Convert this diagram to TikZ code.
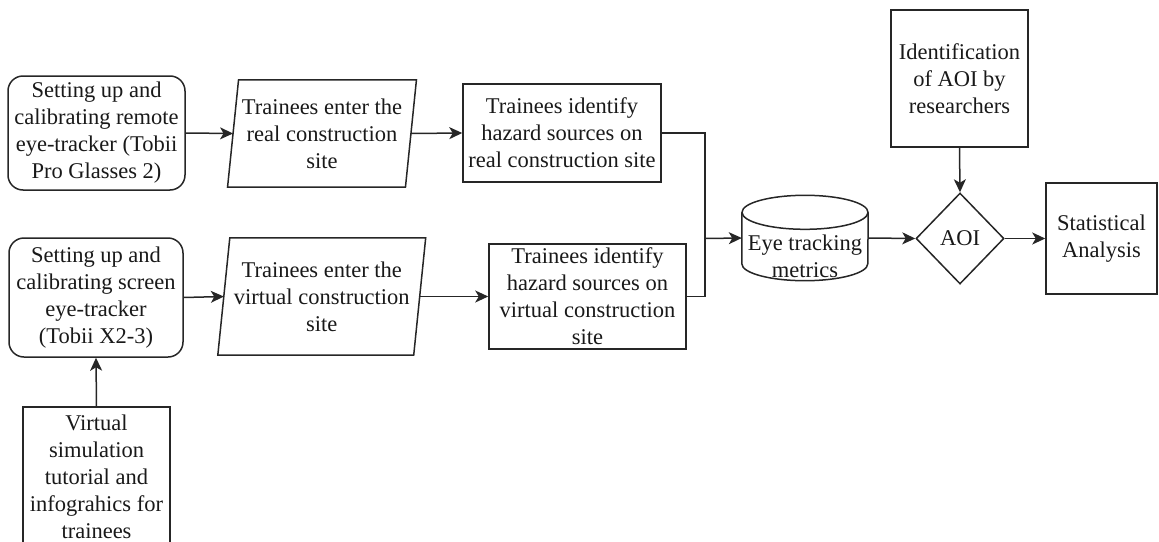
\documentclass[tikz,border=0pt]{standalone}
\usepackage{fontspec}
\setmainfont{Liberation Serif}
\usetikzlibrary{shapes.geometric,arrows.meta}
\tikzset{
  txt/.style={align=center, inner sep=0pt, font=\fontsize{22.5}{27}\selectfont, text=black!90},
  box/.style={txt, draw=black!85, line width=1.5pt, rectangle},
  rbox/.style={box, rounded corners=15pt},
  ghost/.style={txt, rectangle},
  outline/.style={draw=black!85, line width=1.5pt},
  conn/.style={draw=black!85, line width=1.5pt},
  arr/.style={conn, -{Stealth[length=13pt,width=12pt,inset=3.5pt]}},
}
\begin{document}
\begin{tikzpicture}[x=1pt,y=1pt]
\useasboundingbox (0,0) rectangle (1159,-541);
\clip (0,0) rectangle (1159,-541);
% top row
\node[rbox, minimum width=177pt, minimum height=114pt] (A) at (96.5,-133)
  {Setting up and\\calibrating remote\\eye-tracker (Tobii\\Pro Glasses 2)};
\node[ghost, minimum width=177.5pt, minimum height=107pt] (B) at (322,-133.5)
  {Trainees enter the\\real construction\\site};
\draw[outline] ([xshift=5.5pt]B.north west) -- ([xshift=5.5pt]B.north east)
  -- ([xshift=-5.5pt]B.south east) -- ([xshift=-5.5pt]B.south west) -- cycle;
\node[box, minimum width=198pt, minimum height=98pt] (C) at (562,-133)
  {Trainees identify\\hazard sources on\\real construction site};
% bottom row
\node[rbox, minimum width=174pt, minimum height=119pt] (E) at (96,-297.5)
  {Setting up and\\calibrating screen\\eye-tracker\\(Tobii X2-3)};
\node[ghost, minimum width=195.5pt, minimum height=117pt] (F) at (321.75,-296.5)
  {Trainees enter the\\virtual construction\\site};
\draw[outline] ([xshift=6pt]F.north west) -- ([xshift=6pt]F.north east)
  -- ([xshift=-6pt]F.south east) -- ([xshift=-6pt]F.south west) -- cycle;
\node[box, minimum width=197pt, minimum height=105pt] (D) at (587.5,-296.5)
  {Trainees identify\\hazard sources on\\virtual construction\\site};
\node[box, minimum width=147pt, minimum height=139pt] (G) at (96.5,-476.5)
  {Virtual\\simulation\\tutorial and\\infograhics for\\trainees};
% cylinder
\node[ghost, minimum width=126pt, minimum height=85pt] (db) at (805,-238) {};
\draw[outline] ([yshift=-17pt]db.north) ellipse [x radius=63pt, y radius=17pt];
\draw[outline] ([yshift=-17pt]db.north west) -- ([yshift=17pt]db.south west)
  arc[start angle=180, end angle=360, x radius=63pt, y radius=17pt]
  -- ([yshift=-17pt]db.north east);
\node[txt] (dbtext) at (805,-256) {Eye tracking\\metrics};
% right part
\node[box, minimum width=137pt, minimum height=137pt] (I) at (959.5,-78.5)
  {Identification\\of AOI by\\researchers};
\node[txt, draw=black!85, line width=1.5pt, diamond, minimum width=88pt, minimum height=91pt] (aoi) at (960,-238.5) {AOI};
\node[box, minimum width=111pt, minimum height=111pt] (S) at (1101.5,-238.5)
  {Statistical\\Analysis};
% connectors
\coordinate (jn) at (705,-238.5);
\draw[arr] (A.east) -- (B.west);
\draw[arr] (B.east) -- (C.west);
\draw[arr] (E.east) -- (F.west);
\draw[arr] (F.east) -- (D.west);
\draw[arr] (G.north) -- (E.south);
\draw[conn] (C.east) -| (jn);
\draw[conn] (D.east) -| (jn);
\draw[arr] (jn) -- (db.west);
\draw[arr] (db.east) -- (aoi.west);
\draw[arr] (I.south) -- (aoi.north);
\draw[arr] (aoi.east) -- (S.west);
\end{tikzpicture}
\end{document}
